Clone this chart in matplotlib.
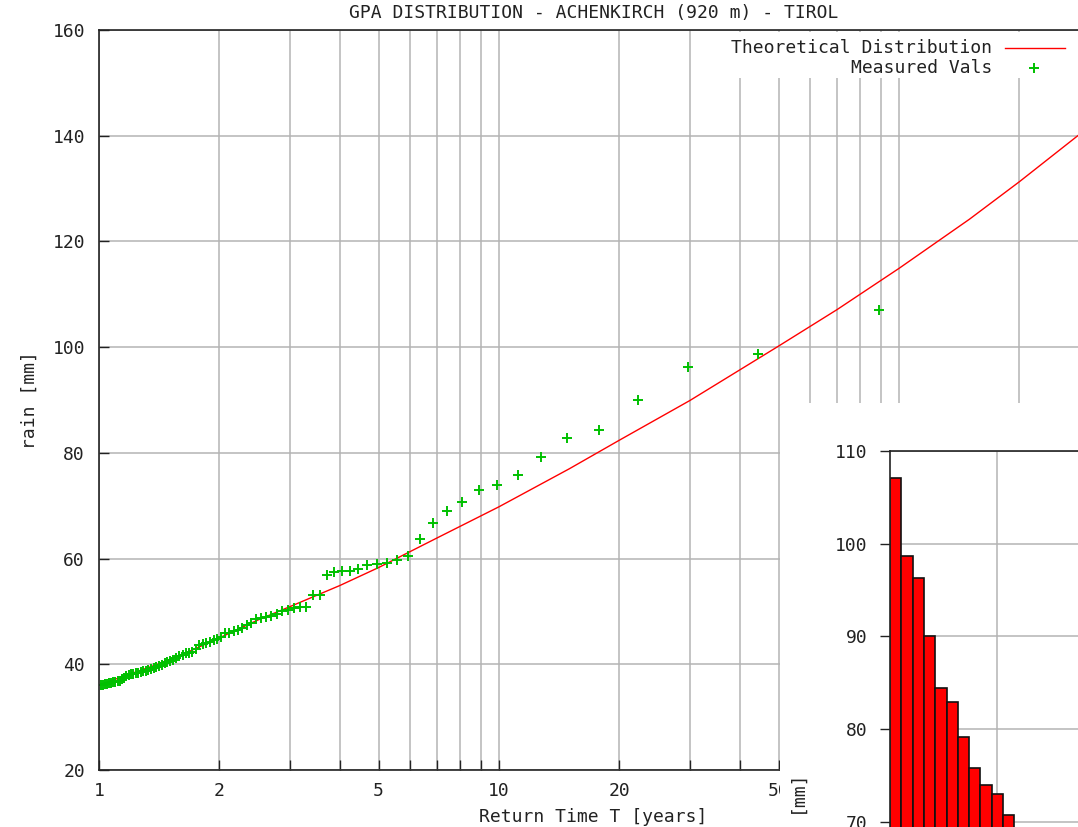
import numpy as np
import matplotlib
matplotlib.use('Agg')
import matplotlib.pyplot as plt
from matplotlib.patches import Rectangle
from matplotlib.lines import Line2D
from matplotlib.ticker import FixedLocator, NullFormatter

plt.rcParams['font.family'] = ['DejaVu Sans Mono', 'DejaVu Sans']

W, H = 1078, 827

title = 'GPA DISTRIBUTION - ACHENKIRCH (920 m) - TIROL'

# theoretical GPA curve
theo_T = [1, 1.2, 1.4, 1.7, 2, 2.5, 3, 4, 5, 7, 10, 15, 20, 30, 50, 70, 100, 150, 200, 300]
theo_rain = [36.1, 38.2, 40.0, 42.6, 45.0, 48.4, 50.9, 54.9, 58.3, 63.9, 69.8, 77.0,
             82.4, 89.9, 100.2, 107.1, 114.9, 124.2, 131.3, 141.8]

# measured annual maxima (sorted) and their return times
meas_T = [89.0, 44.5, 29.667, 22.25, 17.8, 14.833, 12.714, 11.125, 9.889, 8.9,
          8.091, 7.417, 6.846, 6.357, 5.933, 5.563, 5.235, 4.944, 4.684, 4.45,
          4.238, 4.045, 3.870, 3.708, 3.56, 3.423, 3.296, 3.179, 3.069, 2.967,
          2.871, 2.781, 2.697, 2.618, 2.543, 2.472, 2.405, 2.342, 2.282, 2.225,
          2.171, 2.119, 2.070, 2.023, 1.978, 1.935, 1.894, 1.854, 1.816, 1.78,
          1.745, 1.712, 1.679, 1.648, 1.618, 1.589, 1.561, 1.534, 1.508, 1.483,
          1.459, 1.435, 1.413, 1.391, 1.369, 1.348, 1.328, 1.309, 1.290, 1.271,
          1.254, 1.236, 1.219, 1.203, 1.187, 1.171, 1.156, 1.141, 1.127, 1.113,
          1.099, 1.085, 1.072, 1.060, 1.047, 1.035, 1.023, 1.011]
meas_rain = [107.1, 98.7, 96.3, 90.0, 84.4, 82.9, 79.2, 75.8, 74.0, 73.0,
             70.7, 69.0, 66.7, 63.7, 60.4, 59.7, 59.1, 59.0, 58.8, 58.0,
             57.6, 57.6, 57.4, 56.8, 53.2, 53.2, 50.9, 50.8, 50.7, 50.3,
             50.0, 49.6, 49.1, 48.9, 48.7, 48.5, 47.8, 47.4, 46.8, 46.4,
             46.3, 46.0, 45.9, 45.2, 44.8, 44.6, 44.3, 44.0, 43.8, 43.6,
             42.8, 42.4, 42.2, 42.1, 41.8, 41.5, 41.2, 40.9, 40.6, 40.4,
             40.2, 39.9, 39.7, 39.5, 39.3, 39.1, 38.9, 38.8, 38.7, 38.6,
             38.4, 38.3, 38.2, 38.1, 38.0, 37.8, 37.5, 37.2, 36.9, 36.8,
             36.7, 36.6, 36.5, 36.4, 36.3, 36.2, 36.1, 36.0]

x_major = [1, 2, 5, 10, 20, 50, 100, 200]
x_major_labels = ['1', '2', '5', '10', '20', '50', '100', '200']
x_minor = [3, 4, 6, 7, 8, 9, 30, 40, 60, 70, 80, 90]
y_ticks = [20, 40, 60, 80, 100, 120, 140, 160]
inset_yticks = [70, 80, 90, 100, 110]

GRID = '#b4b4b4'
INK = '#222222'
FS = 13


def fx(p):
    return p / W


def fy(p):
    return 1 - p / H


fig = plt.figure(figsize=(W / 100, H / 100), dpi=100)

# main plot
x_right = 99 + 400 * np.log10(300)
ax = fig.add_axes([fx(99), fy(770), fx(x_right) - fx(99), (770 - 30) / H])
ax.set_xscale('log')
ax.set_xlim(1, 300)
ax.set_ylim(20, 160)
ax.xaxis.set_major_locator(FixedLocator(x_major))
ax.set_xticklabels(x_major_labels)
ax.xaxis.set_minor_locator(FixedLocator(x_minor))
ax.xaxis.set_minor_formatter(NullFormatter())
ax.set_yticks(y_ticks)
ax.grid(which='both', color=GRID, lw=1.1)
ax.set_axisbelow(True)
ax.tick_params(which='both', direction='in', length=7, width=1, color=INK,
               labelcolor=INK, labelsize=FS)
ax.tick_params(axis='x', which='both', pad=9)
ax.tick_params(axis='y', pad=10)
for s in ax.spines.values():
    s.set_color(INK)
    s.set_linewidth(1.2)

ax.plot(theo_T, theo_rain, color='#ff0000', lw=1.0)
ax.plot(meas_T, meas_rain, ls='none', marker='+', ms=7, mew=1.4, color='#00c000')

fig.text(fx(594), fy(13), title, ha='center', va='center', size=FS, color=INK)
fig.text(fx(593), fy(817), 'Return Time T [years]', ha='center', va='center',
         size=FS, color=INK)
fig.text(fx(30), fy(400), 'rain [mm]', ha='center', va='center', rotation=90,
         size=FS, color=INK)

# key
fig.add_artist(Rectangle((fx(693), fy(78)), 1 - fx(693), (78 - 32) / H,
                         transform=fig.transFigure, facecolor='white',
                         edgecolor='none', zorder=1))
fig.text(fx(992), fy(48), 'Theoretical Distribution', ha='right', va='center',
         size=FS, color=INK)
fig.text(fx(992), fy(68), 'Measured Vals', ha='right', va='center',
         size=FS, color=INK)
fig.add_artist(Line2D([fx(1005), fx(1065)], [fy(47.5), fy(47.5)],
                      transform=fig.transFigure, color='#ff0000', lw=1.0))
fig.add_artist(Line2D([fx(1034)], [fy(68)], transform=fig.transFigure,
                      ls='none', marker='+', ms=7, mew=1.4, color='#00c000'))

# inset histogram of the sorted values
fig.add_artist(Rectangle((fx(780), 0), 1 - fx(780), fy(403),
                         transform=fig.transFigure, facecolor='white',
                         edgecolor='none', zorder=1))
axi = fig.add_axes([fx(890), fy(1100), fx(1200) - fx(890), (1100 - 451) / H],
                   zorder=3)
ranks = np.arange(1, len(meas_rain) + 1)
axi.bar(ranks, meas_rain, width=1, color='#ff0000', edgecolor='#111111', lw=1.2)
axi.set_xlim(0.5, 0.5 + 310 / 11.3)
axi.set_ylim(40, 110)
axi.set_xticks([10, 20])
axi.set_xticklabels([])
axi.set_yticks(inset_yticks)
axi.grid(color=GRID, lw=1.1)
axi.set_axisbelow(True)
axi.tick_params(axis='y', direction='out', length=7, width=1, color=INK,
                labelcolor=INK, labelsize=FS, pad=9)
for s in axi.spines.values():
    s.set_color(INK)
    s.set_linewidth(1.2)
fig.text(fx(797), fy(791), '[mm]', ha='center', va='center', rotation=90,
         size=FS, color=INK)

fig.savefig('out.png', dpi=100)
